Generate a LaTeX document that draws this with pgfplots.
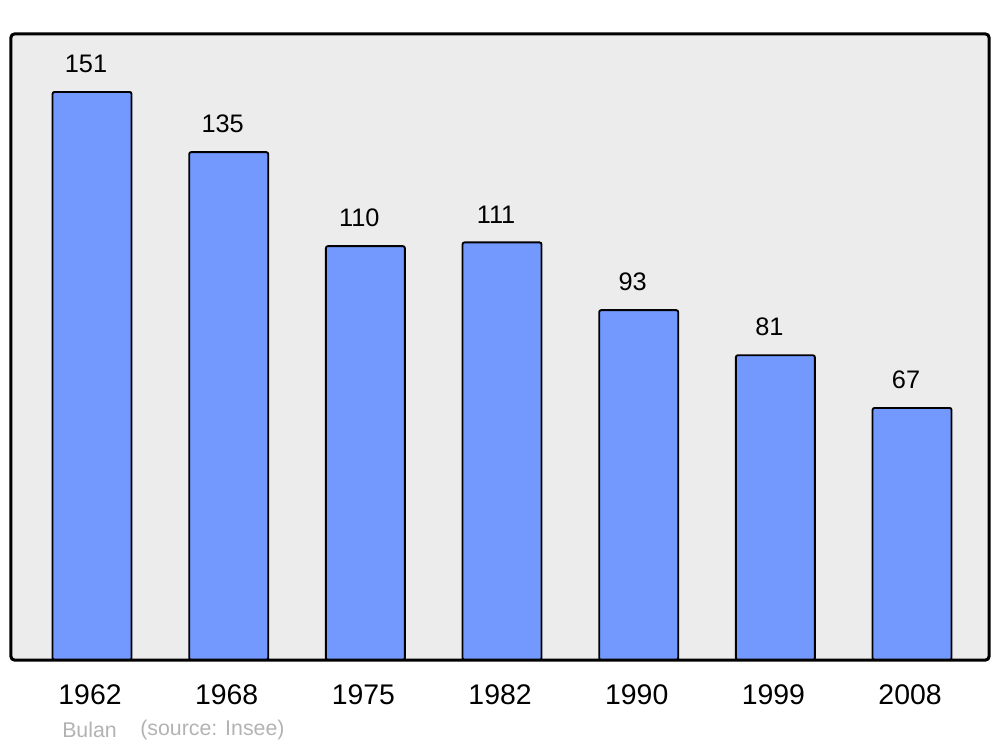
\documentclass[border=0pt]{standalone}
\usepackage{pgfplots}
\pgfplotsset{compat=1.18}
\usepackage{fontspec}
\setmainfont{Liberation Sans}
\definecolor{barblue}{HTML}{7399FF}
\definecolor{panel}{HTML}{ECECEC}
\definecolor{note}{HTML}{B3B3B3}
\begin{document}
\begin{tikzpicture}
\useasboundingbox (-8.25pt,-65.25pt) rectangle (741.75pt,495pt);
\begin{axis}[
  at={(0,0)}, anchor=south west,
  width=733.5pt, height=469.5pt, scale only axis,
  xmin=-0.593, xmax=6.563, ymin=0, ymax=166.4,
  ybar, bar width=0.578, bar shift=0pt,
  axis line style={draw=none},
  axis background/.style={fill=panel},
  xtick=data,
  xticklabels={1962,1968,1975,1982,1990,1999,2008},
  ytick=\empty,
  major tick length=0pt,
  xticklabel style={font=\fontsize{21.3}{25}\selectfont, anchor=center, inner sep=0pt, yshift=-26.25pt, xshift=-1.5pt},
  nodes near coords,
  every node near coord/.append style={font=\fontsize{19}{22}\selectfont, anchor=center, inner sep=0pt, yshift=21pt, xshift=-4.5pt, text=black},
  /pgf/number format/assume math mode=true,
]
\addplot[fill=barblue, draw=black, line width=1.4pt, rounded corners=1.5pt] coordinates {
  (0,151) (1,135) (2,110) (3,111) (4,93) (5,81) (6,67)
};
\end{axis}
\draw[line width=2.25pt, rounded corners=2.5pt] (0,0) rectangle (733.5pt,469.5pt);
\node[anchor=west, inner sep=0pt, text=note, font=\fontsize{16}{19}\selectfont] at (38.25pt,-52.5pt) {Bulan};
\node[anchor=west, inner sep=0pt, text=note, font=\fontsize{16}{19}\selectfont] at (96.75pt,-52.5pt) {(source: Insee)};
\end{tikzpicture}
\end{document}
